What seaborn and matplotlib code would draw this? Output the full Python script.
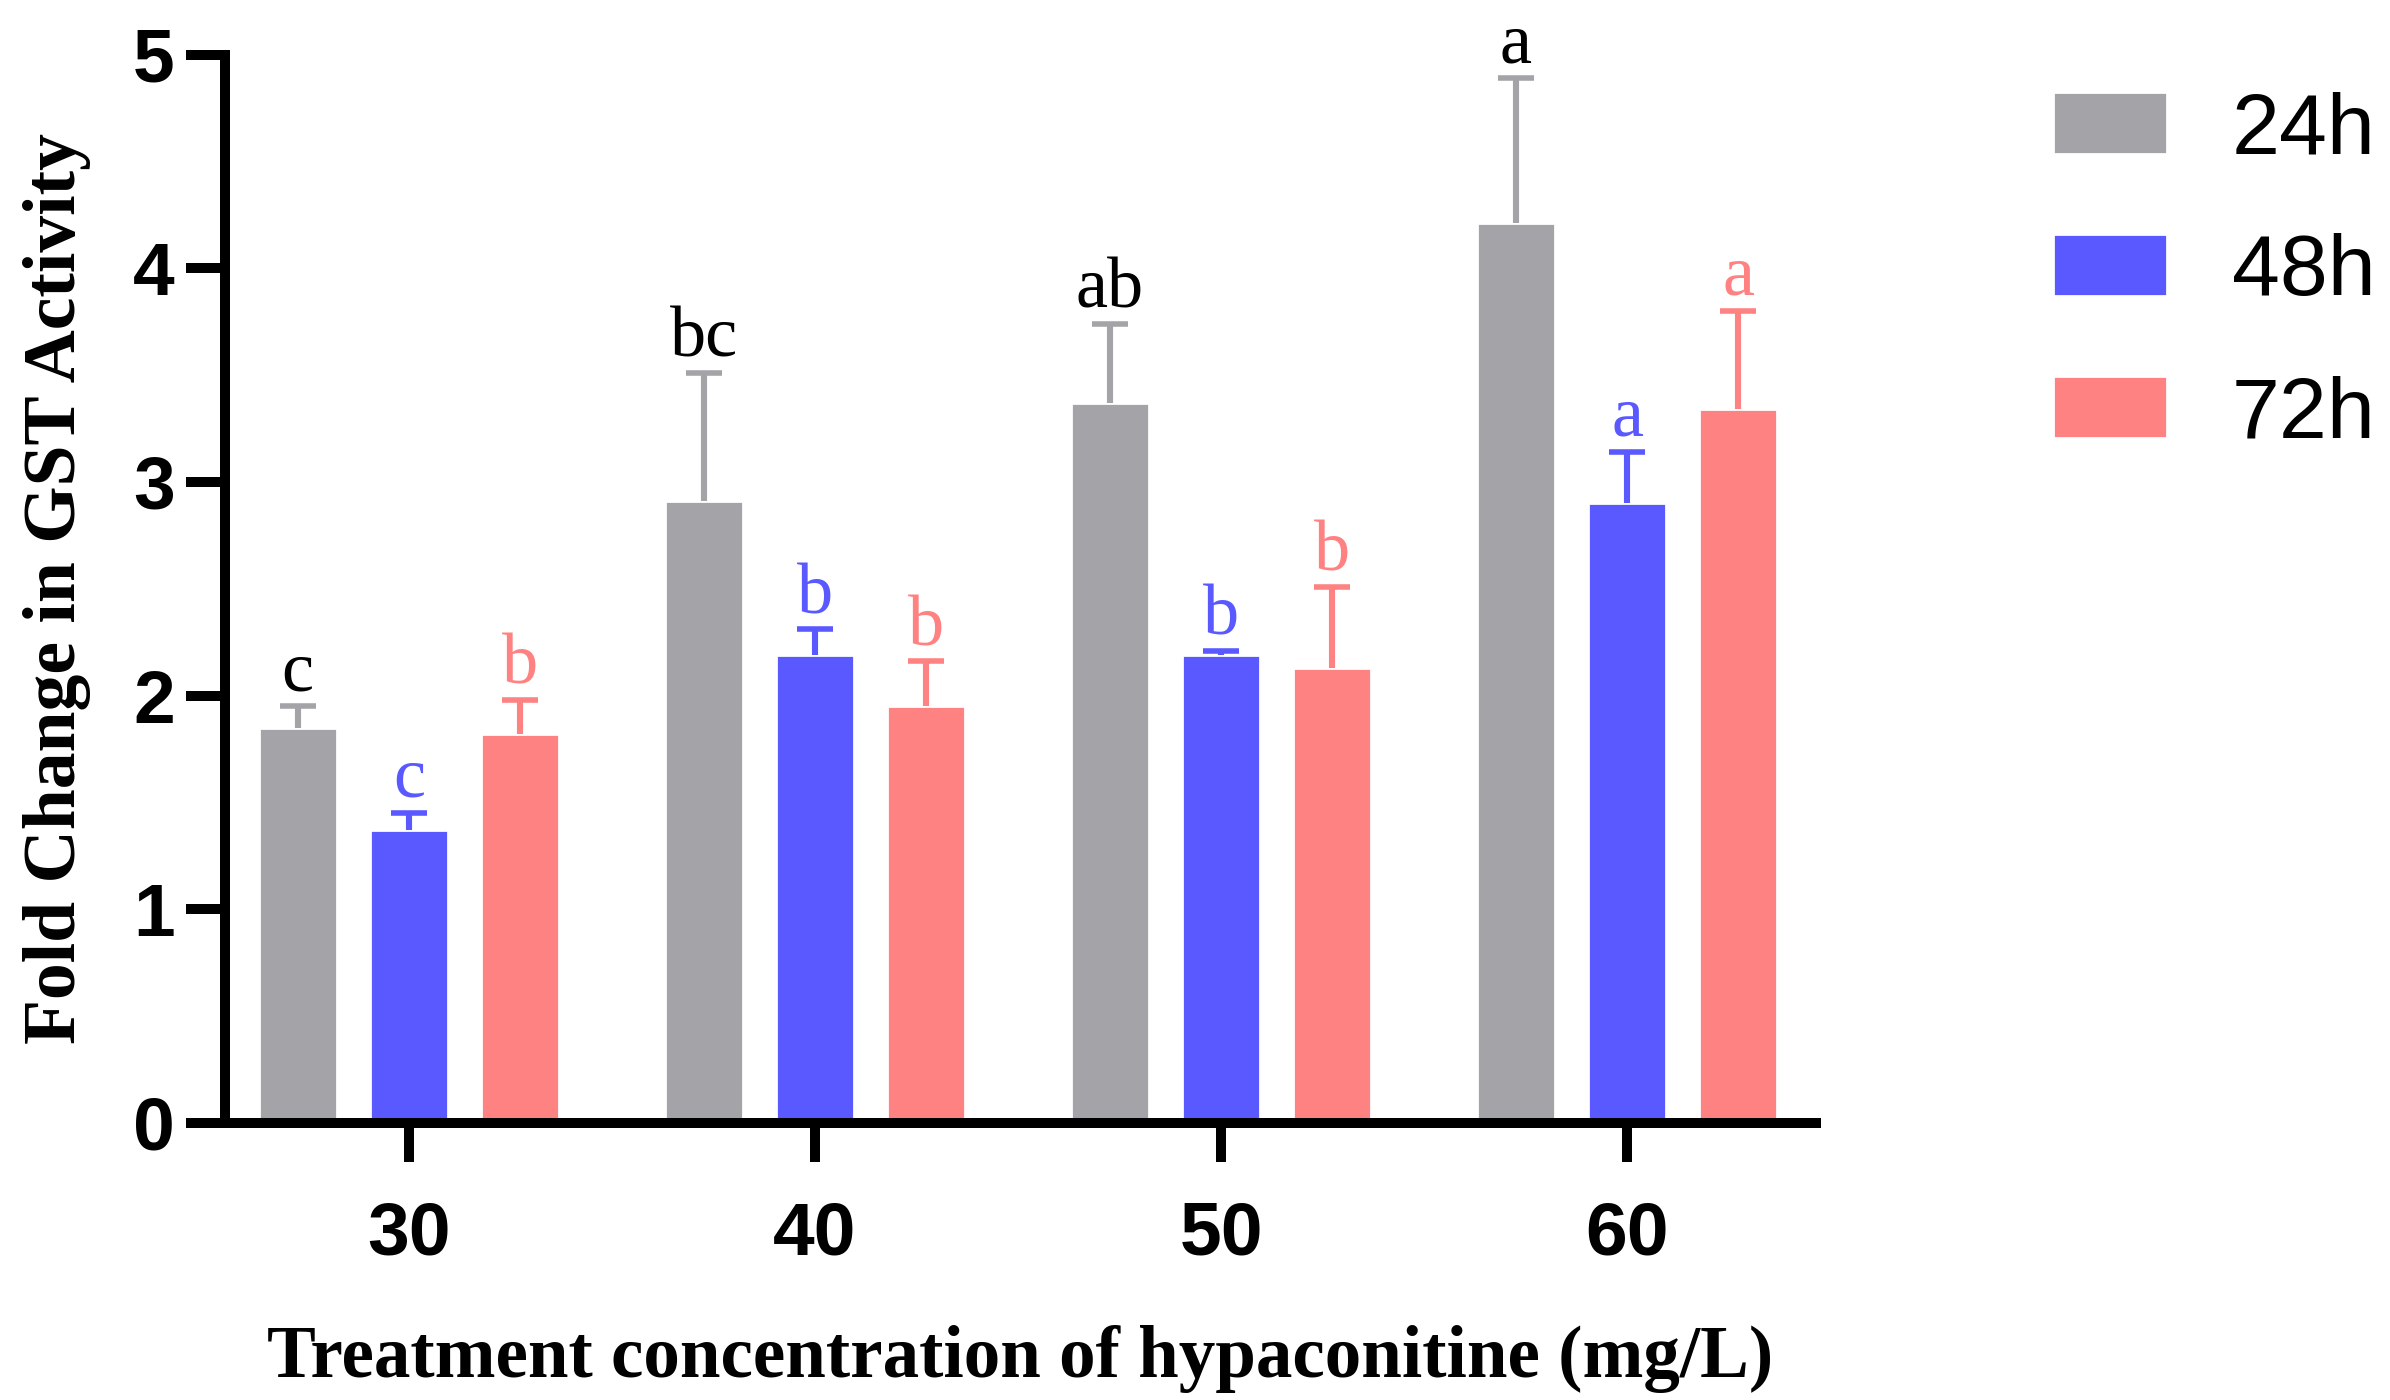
import numpy as np
import pandas as pd
import matplotlib
matplotlib.use("Agg")
import matplotlib.pyplot as plt
import seaborn as sns

# donnees
concentrations = ["30", "40", "50", "60"]
hours = ["24h", "48h", "72h"]
mean_24h = [1.85, 2.91, 3.37, 4.21]
sd_24h = [0.10, 0.60, 0.37, 0.68]
mean_48h = [1.37, 2.19, 2.19, 2.90]
sd_48h = [0.08, 0.12, 0.02, 0.24]
mean_72h = [1.82, 1.95, 2.13, 3.34]
sd_72h = [0.16, 0.21, 0.38, 0.46]
letters_24h = ["c", "bc", "ab", "a"]
letters_48h = ["c", "b", "b", "a"]
letters_72h = ["b", "b", "b", "a"]

colors = ["#A4A3A8", "#5959FF", "#FF8282"]
letter_colors = ["black", "#5959FF", "#FF8282"]

df = pd.DataFrame({
    "conc": concentrations * 3,
    "hour": np.repeat(hours, len(concentrations)),
    "value": mean_24h + mean_48h + mean_72h,
})

sns.set_style("ticks")
plt.rcParams["font.family"] = ["Liberation Sans", "DejaVu Sans"]
plt.rcParams["text.color"] = "black"
plt.rcParams["axes.labelcolor"] = "black"

fig = plt.figure(figsize=(11.95, 7), dpi=200)
ax = fig.add_axes([0.094, 0.198, 0.666, 0.763])

sns.barplot(data=df, x="conc", y="value", hue="hour",
            palette=colors, width=0.822, gap=0.30, errorbar=None,
            saturation=1, ax=ax, legend=False)

means = [mean_24h, mean_48h, mean_72h]
sds = [sd_24h, sd_48h, sd_72h]
letters = [letters_24h, letters_48h, letters_72h]

bar_containers = list(ax.containers)
for i, container in enumerate(bar_containers):
    xs = [b.get_x() + b.get_width() / 2 for b in container]
    eb = ax.errorbar(xs, means[i], yerr=[np.zeros(len(xs)), sds[i]], fmt="none",
                     ecolor=colors[i], elinewidth=2.2, capsize=6.5, capthick=2.0,
                     zorder=3)
    # enlever le cap du bas (au sommet de la barre)
    for cap in eb[1]:
        if np.allclose(cap.get_ydata(), means[i]):
            cap.set_visible(False)
    for x, m, s, lab in zip(xs, means[i], sds[i], letters[i]):
        ax.text(x, m + s + 0.075, lab, ha="center", va="baseline",
                fontsize=26, color=letter_colors[i],
                family=["Liberation Serif", "DejaVu Serif"], clip_on=False)

ax.set_ylim(0, 5)
ax.set_xlim(-0.454, 3.466)
ax.set_yticks([0, 1, 2, 3, 4, 5])

for side in ["top", "right"]:
    ax.spines[side].set_visible(False)
for side in ["left", "bottom"]:
    ax.spines[side].set_linewidth(3.6)
    ax.spines[side].set_color("black")

ax.tick_params(axis="both", width=3.6, length=14, color="black",
               labelsize=27, labelcolor="black")
ax.tick_params(axis="y", pad=4)
ax.tick_params(axis="x", pad=14)
for lab in ax.get_xticklabels() + ax.get_yticklabels():
    lab.set_fontweight("bold")

ax.set_xlabel("Treatment concentration of hypaconitine (mg/L)", fontsize=26.3,
              fontweight="bold", family=["Liberation Serif", "DejaVu Serif"],
              labelpad=20)
ax.set_ylabel("Fold Change in GST Activity", fontsize=26.5, fontweight="bold",
              family=["Liberation Serif", "DejaVu Serif"], labelpad=15)

handles = [c.patches[0] for c in bar_containers]
fig.legend(handles, hours, loc="upper left", bbox_to_anchor=(0.859, 0.935),
           frameon=False, fontsize=31, handlelength=1.32, handleheight=0.72,
           handletextpad=0.76, labelspacing=0.72, borderpad=0, borderaxespad=0)

fig.savefig("out.png", dpi=200)
